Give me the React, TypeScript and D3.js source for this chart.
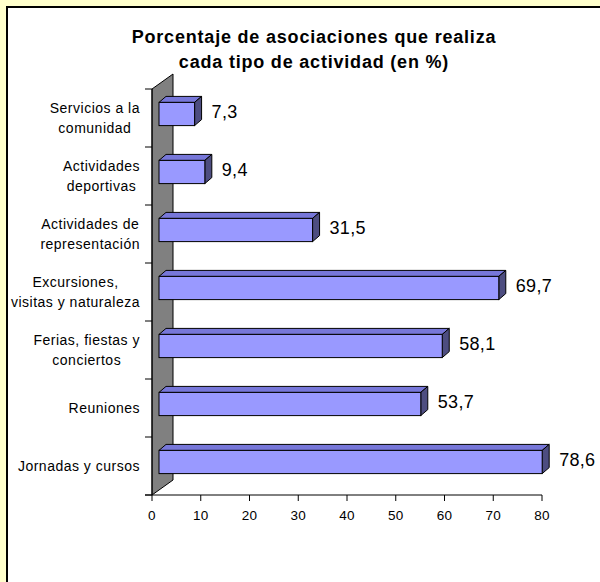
import { useEffect, useRef } from "react";
import * as d3 from "d3";

const categories = [
  "Servicios a la\ncomunidad",
  "Actividades\ndeportivas",
  "Actividades de\nrepresentación",
  "Excursiones,\nvisitas y naturaleza",
  "Ferias, fiestas y\nconciertos",
  "Reuniones",
  "Jornadas y cursos",
];
const values = [7.3, 9.4, 31.5, 69.7, 58.1, 53.7, 78.6];
const xTicks = [0, 10, 20, 30, 40, 50, 60, 70, 80];
const titleLines = [
  "Porcentaje de asociaciones que realiza",
  "cada tipo de actividad (en %)",
];

export default function App() {
  const svgRef = useRef<SVGSVGElement>(null);

  useEffect(() => {
    const svg = d3.select(svgRef.current);
    svg.selectAll("*").remove();

    const width = 600;
    const height = 582;
    const font = "'Liberation Sans', Arial, sans-serif";

    // page background + white chart box
    svg.append("rect").attr("width", width).attr("height", height).attr("fill", "#FFFFCC");
    svg.append("rect").attr("x", 7).attr("y", 7).attr("width", width).attr("height", height).attr("fill", "#fff");
    svg.append("path").attr("d", `M7,${height} V7 H${width}`).attr("fill", "none").attr("stroke", "#000").attr("stroke-width", 2);

    const x = d3.scaleLinear().domain([0, 80]).range([152, 542]);
    const y = d3
      .scaleBand<string>()
      .domain(categories)
      .range([89, 495])
      .paddingInner(0.6)
      .paddingOuter(0.3);

    const [top, bottom] = y.range();
    const x0 = x(0);

    // 3d wall on the left
    const wallDx = 21;
    const wallDy = -15;
    svg
      .append("path")
      .attr("d", `M${x0},${top} L${x0 + wallDx},${top + wallDy} L${x0 + wallDx},${bottom + wallDy} L${x0},${bottom} Z`)
      .attr("fill", "#808080")
      .attr("stroke", "#000")
      .attr("stroke-width", 1);

    // axes
    const axisG = svg.append("g").attr("stroke", "#000").attr("stroke-width", 1);
    axisG.append("line").attr("x1", x0).attr("x2", x0).attr("y1", top).attr("y2", bottom);
    axisG.append("line").attr("x1", x0 - 7).attr("x2", x(80)).attr("y1", bottom).attr("y2", bottom);
    d3.range(categories.length + 1).forEach(i => {
      const yy = top + i * y.step();
      axisG.append("line").attr("x1", x0 - 7).attr("x2", x0).attr("y1", yy).attr("y2", yy);
    });
    xTicks.forEach(t => {
      axisG.append("line").attr("x1", x(t)).attr("x2", x(t)).attr("y1", bottom).attr("y2", bottom + 6);
    });

    svg
      .append("g")
      .selectAll("text")
      .data(xTicks)
      .enter()
      .append("text")
      .attr("x", d => x(d))
      .attr("y", bottom + 25)
      .attr("text-anchor", "middle")
      .attr("font-family", font)
      .attr("font-size", 13.5)
      .attr("letter-spacing", 0.3)
      .text(d => d);

    // bars (front offset inside depth, then bar depth)
    const fx = 7;
    const fy = -4;
    const bdx = 7;
    const bdy = -6;
    const bw = y.bandwidth();
    const fmt = (v: number) => v.toFixed(1).replace(".", ",");

    const bars = svg
      .append("g")
      .selectAll("g")
      .data(categories.map((c, i) => ({ c, v: values[i] })))
      .enter()
      .append("g");

    bars.each(function (d) {
      const g = d3.select(this);
      const bx0 = x0 + fx;
      const bx1 = x(d.v) + fx;
      const by = (y(d.c) as number) + fy;
      g.append("path")
        .attr("d", `M${bx0},${by} L${bx0 + bdx},${by + bdy} L${bx1 + bdx},${by + bdy} L${bx1},${by} Z`)
        .attr("fill", "#7777D9")
        .attr("stroke", "#000")
        .attr("stroke-width", 1)
        .attr("stroke-linejoin", "round");
      g.append("path")
        .attr("d", `M${bx1},${by} L${bx1 + bdx},${by + bdy} L${bx1 + bdx},${by + bw + bdy} L${bx1},${by + bw} Z`)
        .attr("fill", "#4D4D80")
        .attr("stroke", "#000")
        .attr("stroke-width", 1)
        .attr("stroke-linejoin", "round");
      g.append("rect")
        .attr("x", bx0)
        .attr("y", by)
        .attr("width", bx1 - bx0)
        .attr("height", bw)
        .attr("fill", "#9999FF")
        .attr("stroke", "#000")
        .attr("stroke-width", 1);
      g.append("text")
        .attr("x", bx1 + bdx + 10)
        .attr("y", (y(d.c) as number) + bw / 2)
        .attr("font-family", font)
        .attr("font-size", 18)
        .attr("letter-spacing", 0.3)
        .text(fmt(d.v));
    });

    // category labels: lines centred on each other, block right aligned
    const labelRight = 140;
    const lineH = 19.5;
    categories.forEach(c => {
      const lines = c.split("\n");
      const cy = (y(c) as number) + bw / 2;
      const t = svg
        .append("text")
        .attr("font-family", font)
        .attr("font-size", 14)
        .attr("letter-spacing", 0.5)
        .attr("text-anchor", "middle");
      const spans = lines.map((ln, i) =>
        t
          .append("tspan")
          .attr("y", cy + 5 + (i - (lines.length - 1) / 2) * lineH)
          .text(ln)
      );
      const maxW = d3.max(spans, s => (s.node() as SVGTSpanElement).getComputedTextLength()) || 0;
      spans.forEach(s => s.attr("x", labelRight - maxW / 2));
    });

    // title
    svg
      .append("g")
      .selectAll("text")
      .data(titleLines)
      .enter()
      .append("text")
      .attr("x", 314)
      .attr("y", (_, i) => 43 + i * 25)
      .attr("text-anchor", "middle")
      .attr("font-family", font)
      .attr("font-size", 18)
      .attr("font-weight", "bold")
      .attr("letter-spacing", 0.8)
      .text(d => d);
  }, []);

  return (
    <div style={{ position: "fixed", left: 0, top: 0 }}>
      <svg ref={svgRef} width={600} height={582} style={{ display: "block" }} />
    </div>
  );
}
